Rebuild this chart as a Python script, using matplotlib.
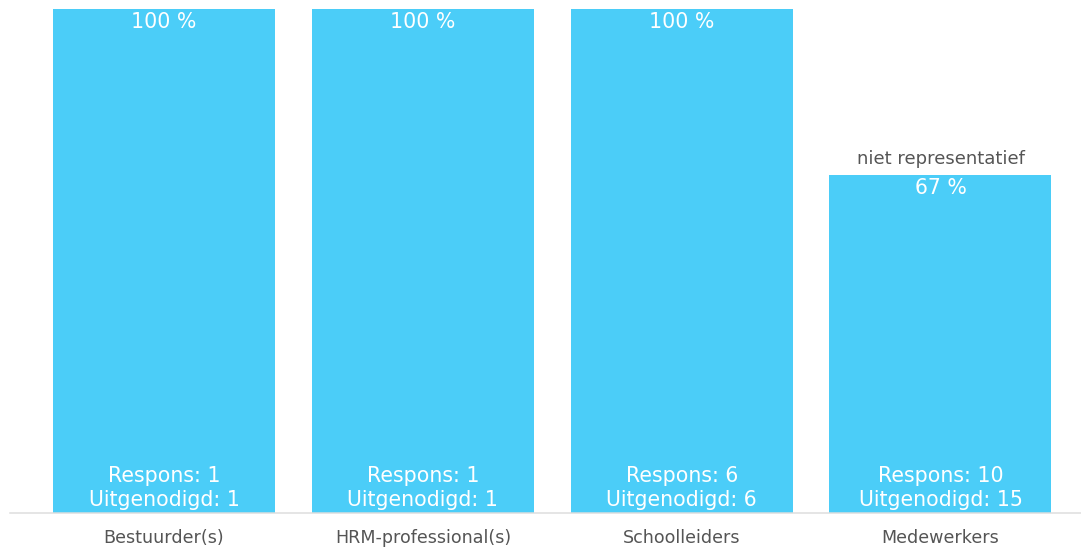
import matplotlib
matplotlib.use("Agg")
import matplotlib.pyplot as plt

categories = ["Bestuurder(s)", "HRM-professional(s)", "Schoolleiders", "Medewerkers"]
percentages = [100, 100, 100, 67]
respons = [1, 1, 6, 10]
uitgenodigd = [1, 1, 6, 15]
notes = ["", "", "", "niet representatief"]

BAR_COLOR = "#4BCDF8"
TEXT_GREY = "#555555"

plt.rcParams["font.family"] = ["DejaVu Sans"]

DPI = 72
fig = plt.figure(figsize=(1081 / DPI, 549 / DPI), dpi=DPI)
ax = fig.add_axes([10 / 1081, 1 - 513 / 549, 1 - 10 / 1081, (513 - 9) / 549])

x = list(range(len(categories)))
ax.bar(x, percentages, width=0.858, color=BAR_COLOR, zorder=2)

ax.set_xlim(-0.595, 3.543)
ax.set_ylim(0, 100)

for spine in ["top", "right", "left"]:
    ax.spines[spine].set_visible(False)
ax.spines["bottom"].set_color("#dddddd")
ax.spines["bottom"].set_linewidth(1.5)
ax.set_yticks([])
ax.set_xticks(x)
ax.set_xticklabels(categories, fontsize=17.5, color=TEXT_GREY)
ax.tick_params(axis="x", length=0, pad=16)

for i, pct in enumerate(percentages):
    ax.annotate(f"{pct} %", (i, pct), xytext=(0, -13), textcoords="offset points",
                ha="center", va="center", color="white", fontsize=20.5)
    ax.annotate(f"Respons: {respons[i]}", (i, 0), xytext=(0, 37), textcoords="offset points",
                ha="center", va="center", color="white", fontsize=20.5)
    ax.annotate(f"Uitgenodigd: {uitgenodigd[i]}", (i, 0), xytext=(0, 13), textcoords="offset points",
                ha="center", va="center", color="white", fontsize=20.5)
    if notes[i]:
        ax.annotate(notes[i], (i, pct), xytext=(0, 16), textcoords="offset points",
                    ha="center", va="center", color=TEXT_GREY, fontsize=18)

fig.savefig("out.png", dpi=DPI)
